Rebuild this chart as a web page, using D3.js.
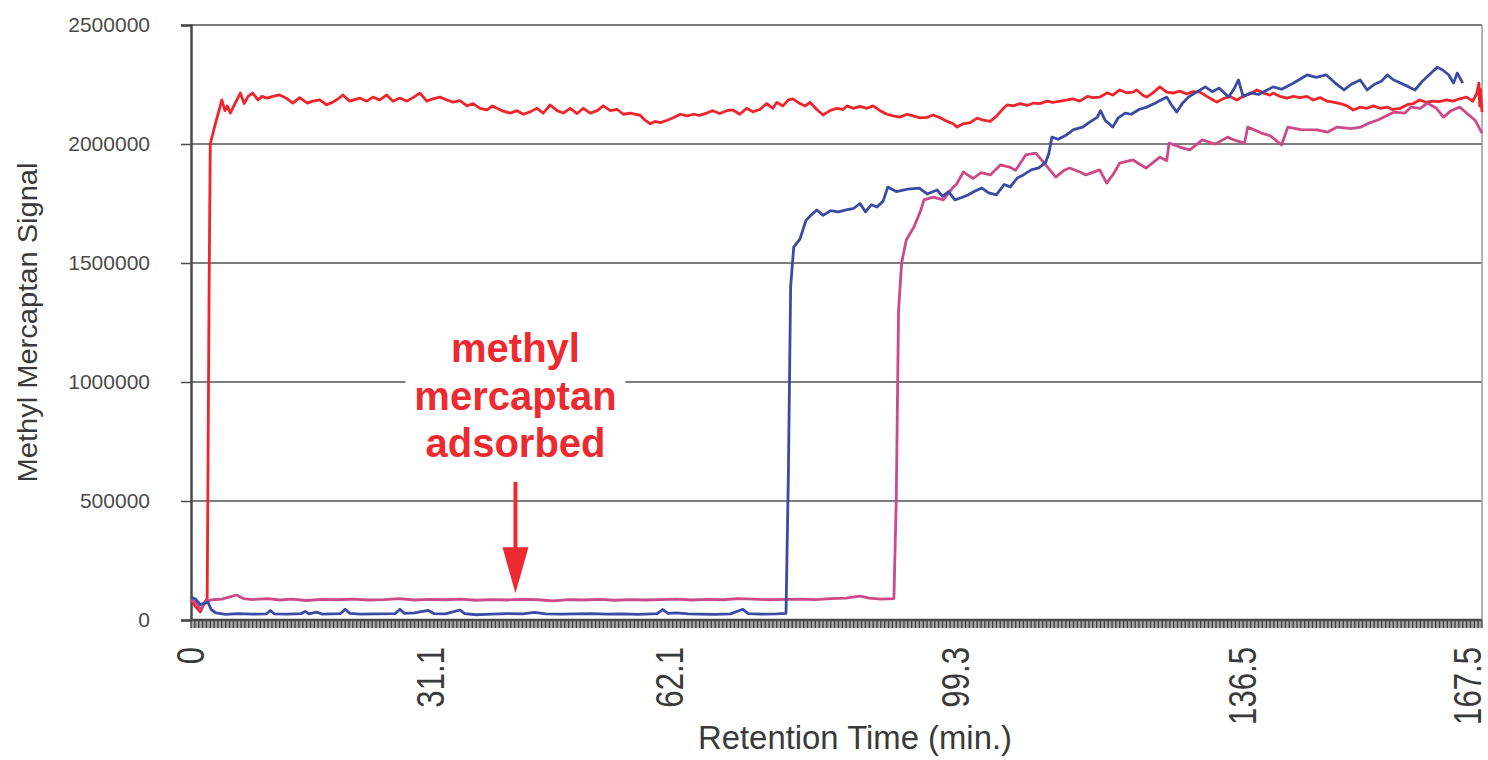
<!DOCTYPE html>
<html>
<head>
<meta charset="utf-8">
<script src="https://cdn.jsdelivr.net/npm/d3@7"></script>
<style>
  body { margin: 0; background: #fff; }
  #wrapper svg { display: block; }
</style>
</head>
<body>
<div id="wrapper"></div>
<script>
// tick labels
const xTickValues = [0, 31.1, 62.1, 99.3, 136.5, 167.5];
const yTickValues = [0, 500000, 1000000, 1500000, 2000000, 2500000];
const annotationLines = ["methyl", "mercaptan", "adsorbed"];

// [retention time (min), signal]
const redSeries = [
  [0, 84000], [0.5, 60000], [1.2, 34000], [1.7, 70000], [2.1, 90000], [2.2, 600000], [2.35, 1400000],
  [2.5, 2000000], [3.2, 2090000], [3.8, 2160000], [4.0, 2185000], [4.4, 2140000], [4.7, 2160000],
  [5.1, 2130000], [5.7, 2170000], [6.4, 2214000], [6.9, 2170000], [7.4, 2200000], [8.0, 2214000],
  [8.7, 2185000], [9.2, 2200000], [9.9, 2193000], [10.6, 2200000], [11.5, 2206000], [12.5, 2190000],
  [13.2, 2172000], [14.1, 2195000], [15.1, 2172000], [15.8, 2180000], [16.7, 2185000], [17.6, 2165000],
  [18.4, 2176000], [19.1, 2190000], [19.7, 2206000], [20.6, 2180000], [21.9, 2193000], [22.8, 2180000],
  [23.6, 2197000], [24.5, 2185000], [25.4, 2206000], [26.2, 2180000], [27.1, 2193000], [28.0, 2180000],
  [28.8, 2195000], [29.7, 2214000], [30.6, 2180000], [31.4, 2190000], [32.3, 2197000], [33.2, 2185000],
  [34.0, 2176000], [34.9, 2182000], [35.8, 2160000], [36.6, 2170000], [37.5, 2150000], [38.4, 2143000],
  [39.1, 2160000], [39.7, 2150000], [40.5, 2138000], [41.4, 2130000], [42.3, 2140000], [43.1, 2125000],
  [44.0, 2135000], [44.9, 2150000], [45.7, 2130000], [46.6, 2164000], [47.5, 2140000], [48.3, 2130000],
  [49.2, 2150000], [50.1, 2128000], [50.9, 2150000], [51.8, 2130000], [52.7, 2140000], [53.5, 2160000],
  [54.4, 2140000], [55.3, 2145000], [56.1, 2125000], [57.0, 2130000], [58.3, 2120000], [58.9, 2100000],
  [59.6, 2085000], [60.2, 2095000], [60.9, 2090000], [61.8, 2100000], [62.5, 2109000], [63.5, 2125000],
  [64.4, 2118000], [65.2, 2125000], [66.0, 2120000], [66.9, 2130000], [67.7, 2140000], [68.6, 2128000],
  [69.5, 2140000], [70.3, 2143000], [71.2, 2125000], [72.1, 2150000], [72.9, 2135000], [73.8, 2145000],
  [74.7, 2170000], [75.5, 2150000], [76.0, 2175000], [76.8, 2160000], [77.5, 2185000], [78.1, 2190000],
  [79.0, 2170000], [79.7, 2160000], [80.3, 2175000], [81.2, 2145000], [82.0, 2122000], [82.9, 2140000],
  [83.8, 2150000], [84.6, 2145000], [85.1, 2160000], [85.9, 2150000], [86.8, 2158000], [87.7, 2150000],
  [88.5, 2160000], [89.4, 2140000], [90.3, 2125000], [91.1, 2118000], [92.0, 2113000], [92.9, 2125000],
  [93.7, 2118000], [94.6, 2110000], [95.5, 2112000], [96.3, 2122000], [97.2, 2110000], [98.1, 2095000],
  [98.9, 2085000], [99.4, 2071000], [100.2, 2085000], [101.1, 2090000], [102.0, 2109000], [102.8, 2100000],
  [103.7, 2095000], [104.6, 2120000], [105.4, 2150000], [105.9, 2164000], [106.7, 2160000], [107.6, 2170000],
  [108.5, 2162000], [109.3, 2172000], [110.2, 2170000], [111.1, 2180000], [111.8, 2175000], [112.8, 2180000],
  [113.7, 2185000], [114.4, 2190000], [115.3, 2180000], [116.3, 2200000], [117.0, 2195000], [117.9, 2197000],
  [118.9, 2215000], [119.6, 2205000], [120.5, 2227000], [121.4, 2215000], [122.2, 2218000], [122.7, 2227000],
  [123.5, 2205000], [124.0, 2197000], [124.8, 2215000], [125.7, 2240000], [126.6, 2218000], [127.4, 2214000],
  [128.3, 2222000], [129.2, 2210000], [130.0, 2220000], [130.9, 2218000], [131.8, 2200000], [132.6, 2185000],
  [133.1, 2176000], [133.9, 2190000], [134.8, 2200000], [135.7, 2185000], [136.5, 2200000], [137.4, 2210000],
  [138.3, 2227000], [139.1, 2215000], [140.0, 2205000], [140.4, 2214000], [141.3, 2200000], [142.2, 2193000],
  [143.0, 2200000], [143.9, 2195000], [144.8, 2200000], [145.6, 2185000], [146.5, 2195000], [147.4, 2180000],
  [148.2, 2176000], [149.1, 2170000], [150.0, 2160000], [150.8, 2143000], [151.7, 2155000], [152.6, 2150000],
  [153.4, 2160000], [154.3, 2150000], [155.2, 2155000], [155.9, 2145000], [156.9, 2150000], [157.8, 2165000],
  [158.6, 2170000], [159.4, 2185000], [160.3, 2175000], [161.1, 2180000], [162.0, 2178000], [162.9, 2185000],
  [163.7, 2180000], [164.6, 2190000], [165.5, 2197000], [166.3, 2180000], [166.8, 2210000], [167.1, 2256000],
  [167.2, 2160000], [167.3, 2230000], [167.5, 2134000]
];

const blueSeries = [
  [0, 95000], [0.6, 88000], [1.2, 65000], [2.2, 75000], [2.6, 45000], [3.2, 30000], [4.5, 24000], [6, 27000],
  [8, 25000], [9.8, 26000], [10.3, 40000], [10.8, 26000], [12.5, 25000], [14.3, 27000], [14.8, 36000],
  [15.3, 26000], [16.3, 33000], [17, 25000], [19.4, 27000], [20, 45000], [20.6, 28000], [22, 25000],
  [24, 26000], [26.5, 27000], [27.1, 45000], [27.7, 28000], [29, 30000], [30.8, 40000], [31.5, 27000],
  [33, 26000], [34.9, 42000], [35.5, 27000], [37, 22000], [39, 25000], [41, 27000], [43, 26000],
  [44.6, 32000], [46, 26000], [48, 25000], [50, 26000], [52, 27000], [54, 25000], [56, 26000], [58, 24000],
  [60.5, 27000], [61.2, 44000], [61.9, 28000], [63, 30000], [64.5, 26000], [66, 25000], [68, 24000],
  [70, 26000], [71.6, 45000], [72.3, 27000], [74, 25000], [76, 26000], [77.2, 28000], [77.5, 600000],
  [77.8, 1400000], [78.2, 1567000], [79, 1600000], [79.8, 1680000], [80.4, 1700000], [81.2, 1723000],
  [82, 1700000], [83, 1720000], [84, 1715000], [85, 1723000], [86, 1730000], [86.8, 1750000],
  [87.5, 1715000], [88.3, 1745000], [89, 1735000], [89.8, 1760000], [90.4, 1819000], [91.5, 1800000],
  [93, 1810000], [94.5, 1815000], [95.5, 1790000], [96.8, 1807000], [97.5, 1780000], [98.3, 1800000],
  [99.1, 1765000], [100, 1775000], [100.8, 1786000], [101.6, 1800000], [102.6, 1815000], [103.5, 1795000],
  [104.5, 1786000], [105.5, 1830000], [106.3, 1820000], [107.2, 1857000], [108, 1870000], [109, 1891000],
  [110, 1900000], [110.9, 1924000], [111.3, 1960000], [111.7, 2029000], [112.5, 2020000], [113.6, 2038000],
  [114.5, 2060000], [115.7, 2071000], [116.5, 2090000], [117.6, 2113000], [118, 2140000], [118.6, 2100000],
  [119.6, 2071000], [120.3, 2110000], [121.2, 2130000], [122, 2125000], [123, 2145000], [124, 2155000],
  [125, 2170000], [126.6, 2197000], [127.2, 2165000], [127.9, 2134000], [128.6, 2170000], [129.4, 2197000],
  [130.3, 2215000], [131.6, 2240000], [132.5, 2220000], [133.4, 2235000], [134.6, 2197000], [135.3, 2230000],
  [135.9, 2269000], [136.5, 2200000], [137.5, 2215000], [138.5, 2208000], [140.4, 2240000], [141.5, 2230000],
  [143, 2255000], [144.8, 2290000], [146, 2280000], [147.3, 2290000], [148.5, 2255000], [149.6, 2227000],
  [150.5, 2250000], [151.7, 2269000], [152.6, 2227000], [153.5, 2250000], [154.5, 2265000], [155.2, 2290000],
  [156, 2270000], [157, 2255000], [158, 2240000], [158.8, 2227000], [159.8, 2265000], [160.8, 2295000],
  [161.7, 2323000], [162.4, 2311000], [163.2, 2290000], [163.8, 2256000], [164.3, 2298000], [165, 2256000]
];

const magentaSeries = [
  [0, 82000], [0.6, 75000], [1.2, 45000], [2.0, 80000], [2.8, 85000], [4, 88000], [5.9, 105000], [6.8, 90000],
  [8, 86000], [10, 90000], [11.5, 84000], [13, 88000], [15, 82000], [17, 87000], [19, 85000], [21, 88000],
  [23, 84000], [25, 86000], [27, 90000], [29, 84000], [31, 87000], [33, 85000], [35, 88000], [37, 83000],
  [39, 86000], [41, 84000], [43, 87000], [45, 85000], [47, 80000], [49, 86000], [51, 84000], [53, 87000],
  [55, 83000], [57, 86000], [59, 84000], [61, 86000], [63, 88000], [65, 84000], [67, 87000], [69, 85000],
  [71, 90000], [73, 88000], [75, 85000], [77, 87000], [79, 88000], [81, 86000], [83, 90000], [85, 92000],
  [86.8, 100000], [88, 92000], [89.5, 88000], [91.2, 90000], [91.5, 500000], [91.8, 1300000], [92.2, 1500000],
  [92.8, 1597000], [93.8, 1651000], [94.7, 1723000], [95.1, 1765000], [96.3, 1777000], [97.6, 1765000],
  [98.9, 1819000], [99.3, 1830000], [100.2, 1882000], [101.5, 1855000], [102.5, 1880000], [103.7, 1870000],
  [105, 1912000], [106.2, 1903000], [107, 1890000], [108.3, 1954000], [109.6, 1962000], [110.9, 1912000],
  [112.2, 1861000], [113.3, 1890000], [114, 1899000], [115.5, 1880000], [116.1, 1870000], [117.9, 1891000],
  [118.8, 1836000], [119.6, 1870000], [120.5, 1920000], [122.2, 1933000], [123.9, 1899000], [125.7, 1945000],
  [126.6, 1930000], [126.9, 2004000], [128.5, 1985000], [129.6, 1975000], [131.2, 2017000], [132.9, 2000000],
  [134.5, 2029000], [135.5, 2015000], [136.7, 2004000], [137.1, 2071000], [138.9, 2046000], [140, 2035000],
  [141.5, 1996000], [142.3, 2071000], [144, 2060000], [146.1, 2059000], [147.5, 2050000], [148.7, 2071000],
  [150.5, 2065000], [151.8, 2071000], [153, 2090000], [154, 2101000], [156.1, 2134000], [157.5, 2130000],
  [158.3, 2155000], [159.5, 2150000], [160.4, 2172000], [161.6, 2150000], [162.5, 2113000], [163.5, 2140000],
  [164.6, 2155000], [165.5, 2130000], [166.6, 2100000], [167.5, 2046000]
];

function drawChart(){
    const dimensions = {
        width: 1488,
        height: 760,
        margin: { top: 25, right: 6, bottom: 140, left: 191 }
    };
    dimensions.boundedWidth = dimensions.width - dimensions.margin.left - dimensions.margin.right;
    dimensions.boundedHeight = dimensions.height - dimensions.margin.top - dimensions.margin.bottom;

    const svg = d3.select("#wrapper")
        .append("svg")
            .attr("width", dimensions.width)
            .attr("height", dimensions.height);

    const bounds = svg.append("g")
        .attr("transform", `translate(${dimensions.margin.left},${dimensions.margin.top})`);

    const xScale = d3.scaleLinear()
        .domain([0, 167.5])
        .range([0, dimensions.boundedWidth]);
    const yScale = d3.scaleLinear()
        .domain([0, 2500000])
        .range([dimensions.boundedHeight, 0]);

    // horizontal grid lines
    bounds.append("g")
        .selectAll("line")
        .data(yTickValues.filter(d => d > 0))
        .join("line")
            .attr("x1", 0)
            .attr("x2", dimensions.boundedWidth)
            .attr("y1", d => yScale(d))
            .attr("y2", d => yScale(d))
            .attr("stroke", "#7d7d7d")
            .attr("stroke-width", 2);

    // right frame
    bounds.append("line")
        .attr("x1", dimensions.boundedWidth).attr("x2", dimensions.boundedWidth)
        .attr("y1", 0).attr("y2", dimensions.boundedHeight)
        .attr("stroke", "#9a9a9a")
        .attr("stroke-width", 1.5);

    // y axis
    const yAxis = d3.axisLeft(yScale)
        .tickValues(yTickValues)
        .tickFormat(d3.format("d"))
        .tickSize(10)
        .tickPadding(31);
    const yAxisGroup = bounds.append("g").call(yAxis);
    yAxisGroup.select(".domain").attr("stroke", "#4a4a4a").attr("stroke-width", 2.5);
    yAxisGroup.selectAll(".tick line").attr("stroke", "#4a4a4a").attr("stroke-width", 1.5);
    yAxisGroup.selectAll(".tick text")
        .attr("fill", "#4a4a4a")
        .style("font-family", "'Liberation Sans', Arial, sans-serif")
        .style("font-size", "21px");

    // x axis: grey band with dense minor ticks
    const xAxisGroup = bounds.append("g")
        .attr("transform", `translate(0,${dimensions.boundedHeight})`);
    xAxisGroup.append("rect")
        .attr("x", 0)
        .attr("y", 0)
        .attr("width", dimensions.boundedWidth)
        .attr("height", 8)
        .attr("fill", "#a8a8a8");
    xAxisGroup.append("g")
        .selectAll("line")
        .data(d3.range(0, 167.6, 0.5))
        .join("line")
            .attr("x1", d => xScale(d))
            .attr("x2", d => xScale(d))
            .attr("y1", 0)
            .attr("y2", 8)
            .attr("stroke", "#3c3c3c")
            .attr("stroke-width", 1.3);
    xAxisGroup.append("line")
        .attr("x1", 0).attr("x2", dimensions.boundedWidth)
        .attr("y1", 0).attr("y2", 0)
        .attr("stroke", "#4a4a4a")
        .attr("stroke-width", 2.5);

    // x tick labels, rotated and squeezed to look condensed
    const xLabels = bounds.append("g")
        .attr("transform", `translate(0,${dimensions.boundedHeight})`);
    xLabels.selectAll("text")
        .data(xTickValues)
        .join("text")
            .attr("transform", d => `translate(${Math.min(xScale(d), dimensions.boundedWidth - 14) + 13},27) rotate(-90) scale(0.82,1)`)
            .attr("text-anchor", "end")
            .attr("fill", "#3a3a3a")
            .style("font-family", "'Liberation Sans', Arial, sans-serif")
            .style("font-size", "38px")
            .text(d => d);

    // lines
    const lineGenerator = d3.line()
        .x(d => xScale(d[0]))
        .y(d => yScale(d[1]));

    const series = [
        { data: redSeries, color: "#f0242b" },
        { data: magentaSeries, color: "#cc4a8a" },
        { data: blueSeries, color: "#3b4aa3" }
    ];
    bounds.append("g")
        .selectAll("path")
        .data(series)
        .join("path")
            .attr("d", d => lineGenerator(d.data))
            .attr("fill", "none")
            .attr("stroke", d => d.color)
            .attr("stroke-width", 2.8)
            .attr("stroke-linejoin", "round");

    // annotation with white backing over the grid line
    const annX = xScale(42.1);
    bounds.append("rect")
        .attr("x", annX - 110)
        .attr("y", yScale(1170000))
        .attr("width", 220)
        .attr("height", yScale(590000) - yScale(1170000))
        .attr("fill", "#fff");

    bounds.append("g")
        .selectAll("text")
        .data(annotationLines)
        .join("text")
            .attr("x", annX)
            .attr("y", (d, i) => 337 + i * 47.5)
            .attr("text-anchor", "middle")
            .attr("fill", "#ee2a31")
            .style("font-family", "'Liberation Sans', Arial, sans-serif")
            .style("font-weight", "bold")
            .style("font-size", "40px")
            .text(d => d);

    // arrow
    const arrowTop = yScale(580000);
    const arrowTip = yScale(112000);
    bounds.append("line")
        .attr("x1", annX).attr("x2", annX)
        .attr("y1", arrowTop).attr("y2", arrowTip - 30)
        .attr("stroke", "#ee2a31")
        .attr("stroke-width", 4);
    bounds.append("path")
        .attr("d", `M${annX - 13},${arrowTip - 46} L${annX + 13},${arrowTip - 46} L${annX},${arrowTip} Z`)
        .attr("fill", "#ee2a31");

    // axis titles
    svg.append("text")
        .attr("transform", `translate(37,${dimensions.margin.top + dimensions.boundedHeight / 2}) rotate(-90)`)
        .attr("text-anchor", "middle")
        .attr("fill", "#3a3a3a")
        .attr("textLength", 320)
        .attr("lengthAdjust", "spacingAndGlyphs")
        .style("font-family", "'Liberation Sans', Arial, sans-serif")
        .style("font-size", "27px")
        .text("Methyl Mercaptan Signal");

    svg.append("text")
        .attr("x", 855)
        .attr("y", 749)
        .attr("text-anchor", "middle")
        .attr("fill", "#3a3a3a")
        .attr("textLength", 314)
        .attr("lengthAdjust", "spacingAndGlyphs")
        .style("font-family", "'Liberation Sans', Arial, sans-serif")
        .style("font-size", "33px")
        .text("Retention Time (min.)");
}

drawChart();
</script>
</body>
</html>
